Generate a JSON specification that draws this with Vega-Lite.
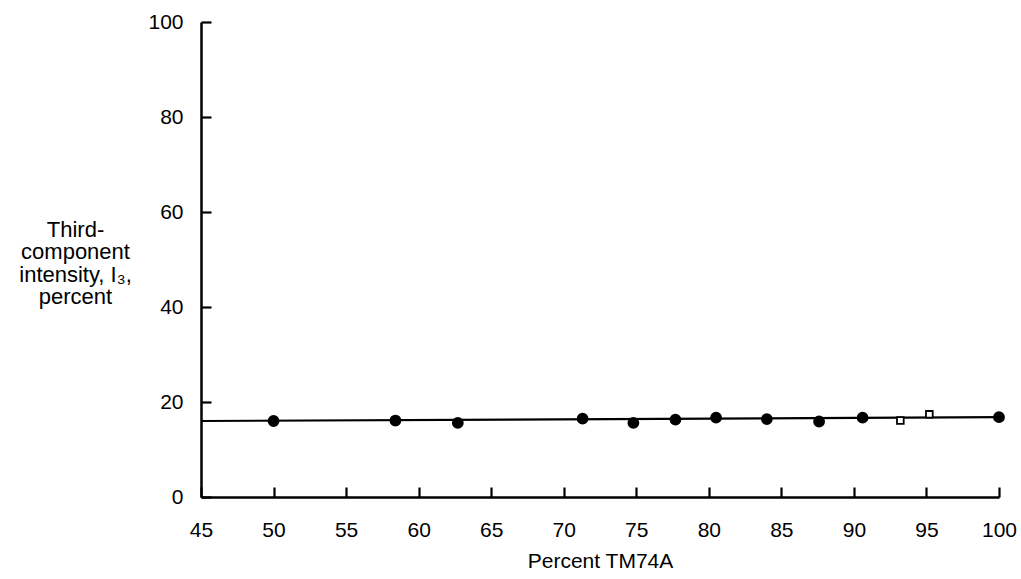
{
  "$schema": "https://vega.github.io/schema/vega-lite/v6.json",
  "autosize": "none",
  "width": 798,
  "height": 475,
  "padding": {"left": 201, "top": 22, "right": 22, "bottom": 82},
  "background": "white",
  "config": {
    "view": {"stroke": null},
    "font": "Liberation Sans",
    "axis": {
      "domainColor": "black", "domainWidth": 2.5, "tickColor": "black", "tickWidth": 2.2,
      "labelColor": "black", "titleColor": "black", "labelFontSize": 21, "titleFontSize": 21,
      "titleFontWeight": "normal", "grid": false, "labelFont": "Liberation Sans", "titleFont": "Liberation Sans"
    }
  },
  "resolve": {"axis": {"x": "independent", "y": "independent"}},
  "layer": [
    {
      "data": {"values": [{"x": 45, "y": 16.0}, {"x": 100, "y": 16.8}]},
      "mark": {"type": "line", "color": "black", "strokeWidth": 2.2},
      "encoding": {
        "x": {"field": "x", "type": "quantitative", "scale": {"domain": [45, 100], "nice": false, "zero": false},
          "axis": {"orient": "bottom", "values": [45,50,55,60,65,70,75,80,85,90,95,100], "domain": false, "ticks": false, "tickSize": 0, "labelPadding": 22, "labelFlush": false, "title": "Percent TM74A", "titlePadding": 10}},
        "y": {"field": "y", "type": "quantitative", "scale": {"domain": [0, 100], "nice": false},
          "axis": {"orient": "left", "values": [0,20,40,60,80,100], "domain": false, "ticks": false, "tickSize": 0, "labelPadding": 18, "labelFlush": false,
            "title": ["Third-", "component", "intensity, I₃,", "percent"], "titleAngle": 0, "titleAlign": "center", "titleFontSize": 22,
            "titleBaseline": "alphabetic", "titleX": -126, "titleY": 214, "titleLineHeight": 22.5}}
      }
    },
    {
      "data": {"values": [
        {"x": 50.0, "y": 16.0, "kind": "filled"},
        {"x": 58.4, "y": 16.1, "kind": "filled"},
        {"x": 62.7, "y": 15.6, "kind": "filled"},
        {"x": 71.3, "y": 16.5, "kind": "filled"},
        {"x": 74.8, "y": 15.6, "kind": "filled"},
        {"x": 77.7, "y": 16.3, "kind": "filled"},
        {"x": 80.5, "y": 16.7, "kind": "filled"},
        {"x": 84.0, "y": 16.4, "kind": "filled"},
        {"x": 87.6, "y": 15.9, "kind": "filled"},
        {"x": 90.6, "y": 16.7, "kind": "filled"},
        {"x": 93.2, "y": 16.1, "kind": "open"},
        {"x": 95.2, "y": 17.4, "kind": "open"},
        {"x": 100.0, "y": 16.8, "kind": "filled"}
      ]},
      "mark": {"type": "point", "color": "black", "strokeWidth": 1.8, "opacity": 1},
      "encoding": {
        "x": {"field": "x", "type": "quantitative",
          "axis": {"orient": "top", "offset": -475, "values": [45,50,55,60,65,70,75,80,85,90,95,100], "labels": false, "tickSize": 10, "title": null}},
        "y": {"field": "y", "type": "quantitative",
          "axis": {"orient": "right", "offset": -798, "values": [0,20,40,60,80,100], "labels": false, "tickSize": 10, "title": null}},
        "shape": {"field": "kind", "type": "nominal", "scale": {"domain": ["filled", "open"], "range": ["circle", "square"]}, "legend": null},
        "size": {"field": "kind", "type": "nominal", "scale": {"domain": ["filled", "open"], "range": [100, 45]}, "legend": null},
        "fill": {"field": "kind", "type": "nominal", "scale": {"domain": ["filled", "open"], "range": ["black", "white"]}, "legend": null},
        "stroke": {"value": "black"},
        "fillOpacity": {"value": 1}
      }
    }
  ]
}
